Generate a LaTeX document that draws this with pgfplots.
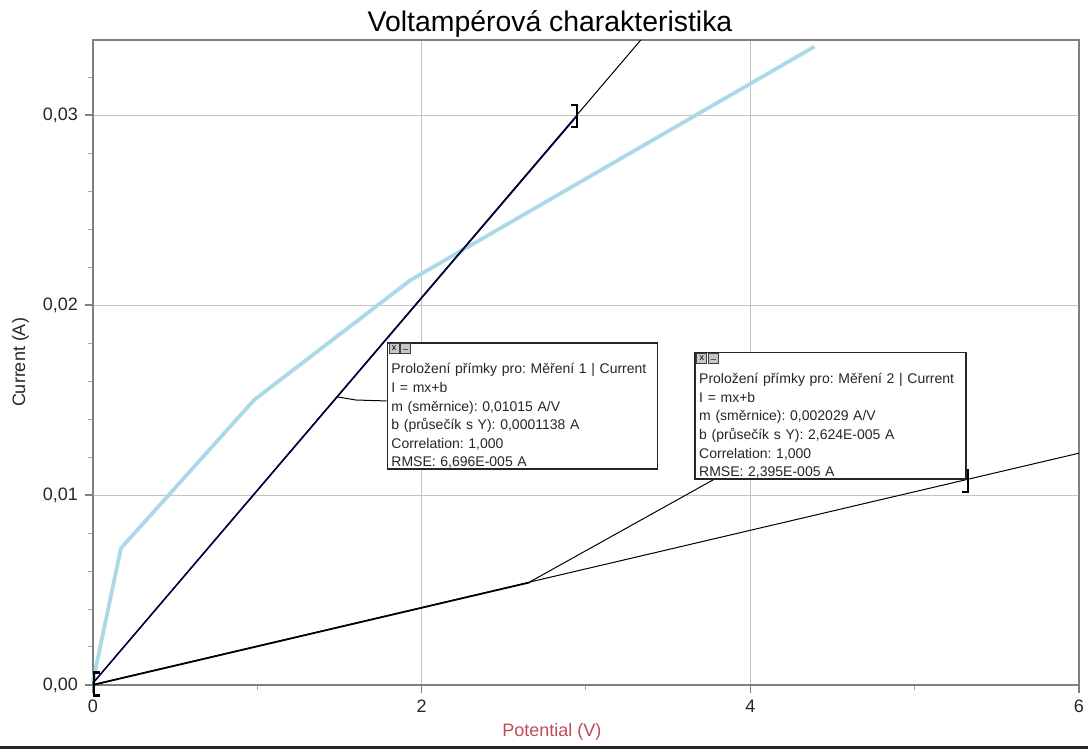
\documentclass[border=0pt]{standalone}
\usepackage{fontspec}
\setmainfont{Liberation Sans}
\usepackage{pgfplots}
\pgfplotsset{compat=1.18}
\frenchspacing
\definecolor{axgray}{RGB}{128,128,128}
\definecolor{gridgray}{RGB}{195,195,195}
\definecolor{lblue}{RGB}{172,217,232}
\definecolor{xlab}{RGB}{190,75,85}
\tikzset{icon/.style={draw=black!75, fill=gray!45, minimum size=5pt, inner sep=0pt, anchor=north west, font=\fontsize{4.5}{4.5}\selectfont}}
\begin{document}
\begin{tikzpicture}[x=1pt,y=1pt]
\useasboundingbox (-46.5,-32) rectangle (497.5,342.5);
\begin{axis}[
  at={(0,0)}, anchor=origin,
  scale only axis, width=493pt, height=322.5pt,
  xmin=0, xmax=6, ymin=0, ymax=0.03395,
  clip=false,
  xtick={0,2,4,6}, ytick={0,0.01,0.02,0.03},
  minor xtick={1,3,5},
  minor ytick={0.002,0.004,0.006,0.008,0.012,0.014,0.016,0.018,0.022,0.024,0.026,0.028,0.032},
  scaled y ticks=false,
  tick pos=left, tick align=outside,
  major tick length=4pt, minor tick length=2.5pt,
  axis line style={axgray, line width=1pt},
  major tick style={axgray, line width=0.8pt},
  minor tick style={axgray!70, line width=0.5pt},
  grid=major, major grid style={gridgray, line width=0.5pt},
  ticklabel style={font=\fontsize{9}{10}\selectfont, text=black!85},
  /pgf/number format/assume math mode=true,
  yticklabel style={/pgf/number format/.cd, fixed, fixed zerofill, precision=2, use comma},
  xticklabel style={/pgf/number format/.cd, use comma},
  title={Voltampérová charakteristika},
  title style={at={(axis description cs:0.4635,1)}, anchor=south, inner sep=0pt, yshift=-5pt, font=\fontsize{14.2}{16}\selectfont},
  xlabel={Potential (V)},
  xlabel style={at={(axis description cs:0.4655,-0.0729)}, anchor=center, font=\fontsize{9}{10}\selectfont, text=xlab},
  ylabel={Current (A)},
  ylabel style={at={(axis description cs:-0.0735,0.5)}, anchor=center, font=\fontsize{9}{10}\selectfont, text=black!85},
]
% measured curve (light blue)
\addplot[lblue, line width=1.9pt] coordinates {(0,0.0002)(0.17,0.0072)(0.98,0.0150)(1.93,0.0213)(4.39,0.0336)};
% linear fits
\addplot[black, line width=0.5pt] coordinates {(0,0.0001138)(3.3336,0.03395)};
\addplot[black, line width=0.5pt] coordinates {(0,0.00002624)(6,0.01220024)};
% measured data along fits
\addplot[black!75!blue, line width=0.75pt] coordinates {(0,0.0001)(2.94,0.0299)};
\addplot[black, line width=0.8pt] coordinates {(0,0)(2.66,0.0054)};
% range brackets
\addplot[black, line width=1.3pt] coordinates {(0.045,0.00065)(0.006,0.00065)(0.006,-0.00055)(0.045,-0.00055)};
\addplot[black, line width=1.1pt] coordinates {(2.91,0.03053)(2.945,0.03053)(2.945,0.02937)(2.91,0.02937)};
\addplot[black, line width=1.1pt] coordinates {(5.29,0.01132)(5.325,0.01132)(5.325,0.01016)(5.29,0.01016)};
% leaders
\addplot[black, line width=0.5pt] coordinates {(1.787,0.01495)(1.60,0.01500)(1.483,0.01517)};
\addplot[black, line width=0.5pt] coordinates {(3.793,0.01089)(2.657,0.00542)};
% annotation boxes
\node[draw=black!85, line width=0.75pt, fill=white, anchor=north west, inner xsep=2pt, inner ysep=0pt,
  text width=131pt, align=left, font=\fontsize{7}{9.3}\selectfont, text=black!85] (b1) at (axis cs:1.787,0.01805)
  {\rule{0pt}{15.5pt}Proložení přímky pro: Měření 1 | Current\\
   I = mx+b\\
   m (směrnice): 0,01015 A/V\\
   b (průsečík s Y): 0,0001138 A\\
   Correlation: 1,000\\
   RMSE: 6,696E-005 A\rule[-1.2pt]{0pt}{0pt}};
\node[draw=black!85, line width=0.75pt, fill=white, anchor=north west, inner xsep=2pt, inner ysep=0pt,
  text width=131.5pt, align=left, font=\fontsize{7}{9.3}\selectfont, text=black!85] (b2) at (axis cs:3.66,0.01753)
  {\rule{0pt}{15.5pt}Proložení přímky pro: Měření 2 | Current\\
   I = mx+b\\
   m (směrnice): 0,002029 A/V\\
   b (průsečík s Y): 2,624E-005 A\\
   Correlation: 1,000\\
   RMSE: 2,395E-005 A\rule[-1.2pt]{0pt}{0pt}};
\node[icon] at ([shift={(1pt,-0.3pt)}]b1.north west) {x};
\node[icon] at ([shift={(6.8pt,-0.3pt)}]b1.north west) {\raisebox{-1pt}{\_}};
\node[icon] at ([shift={(1pt,-0.3pt)}]b2.north west) {x};
\node[icon] at ([shift={(6.8pt,-0.3pt)}]b2.north west) {\raisebox{-1pt}{\_}};
\end{axis}
\fill[black!85] (-46.5,-32) rectangle (497.5,-30.3);
\end{tikzpicture}
\end{document}
